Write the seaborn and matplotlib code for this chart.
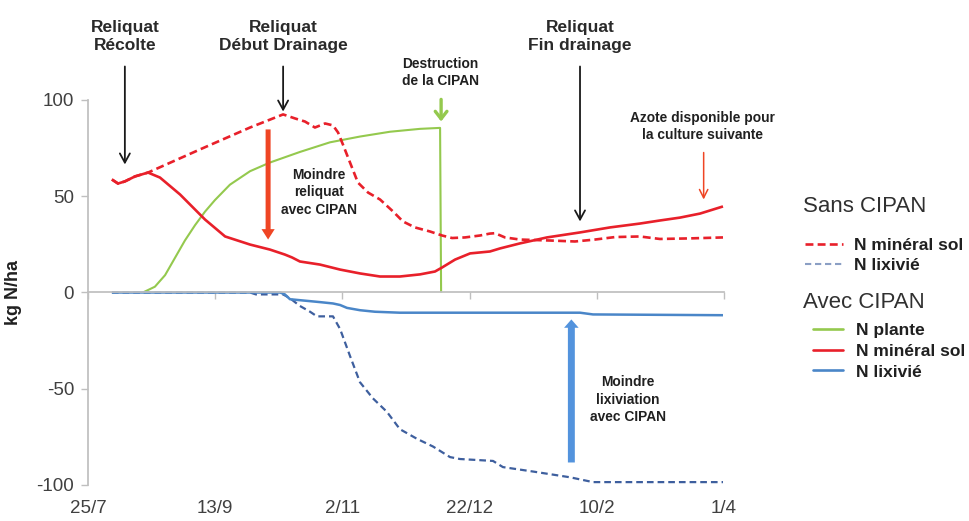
import matplotlib
matplotlib.use("Agg")
import matplotlib.pyplot as plt
from matplotlib import font_manager
from matplotlib.lines import Line2D
import pandas as pd
import seaborn as sns

# ---- data (x = days since 25 July, y = kg N/ha) ----
tick_days = [0, 50, 100, 150, 200, 250]
tick_labels = ["25/7", "13/9", "2/11", "22/12", "10/2", "1/4"]

# Sans CIPAN : azote minéral du sol
sans_min_jour = [9.4, 11.8, 14.5, 18.5, 23.6, 44.0, 63.7, 76.7, 81.4, 85.3, 89.2, 93.2,
                 96.3, 98.3, 100.2, 103.0, 106.1, 110.1, 114.8, 119.9, 123.8, 128.5,
                 134.4, 139.2, 143.1, 148.2, 154.1, 158.0, 160.0, 163.9, 169.8, 181.6,
                 191.4, 199.3, 207.2, 216.9, 224.8, 236.6, 249.6]
sans_min_kg = [58.7, 56.6, 57.7, 60.3, 62.3, 74.3, 85.7, 92.5, 90.4, 88.8, 85.7, 87.8,
               86.8, 83.1, 76.9, 67.5, 57.1, 51.9, 48.3, 42.1, 36.9, 33.8,
               31.7, 29.6, 28.3, 28.6, 29.6, 30.6, 30.8, 28.6, 27.5, 27.0,
               26.5, 27.5, 28.8, 29.1, 27.8, 28.1, 28.6]

# Sans CIPAN : azote lixivié
sans_lix_jour = [9.4, 63.7, 66.0, 71.5, 76.7, 79.4, 83.3, 87.3, 90.0, 96.3, 99.1, 103.0,
                 106.9, 112.0, 117.5, 122.6, 129.3, 135.6, 142.3, 146.2, 159.2, 163.1,
                 174.9, 189.5, 198.5, 249.6]
sans_lix_kg = [0.0, 0.0, -1.0, -1.0, -1.0, -3.0, -7.0, -10.0, -12.4, -12.4, -19.0, -33.0,
               -46.6, -55.0, -62.0, -71.0, -76.0, -80.0, -85.5, -86.5, -87.5, -90.7,
               -93.0, -96.0, -98.5, -98.5]

# Avec CIPAN : azote dans la plante
avec_plante_jour = [21.6, 26.3, 30.3, 34.2, 38.1, 42.1, 46.0, 49.9, 55.8, 63.7, 71.5,
                    83.3, 95.1, 106.9, 118.7, 130.5, 138.4, 138.8]
avec_plante_kg = [0.0, 3.0, 9.0, 18.0, 27.0, 35.0, 42.0, 48.0, 56.0, 63.0, 67.5,
                  73.0, 78.0, 81.0, 83.5, 85.0, 85.5, 0.0]

# Avec CIPAN : azote minéral du sol
avec_min_jour = [9.4, 11.8, 14.5, 18.5, 23.6, 28.3, 36.2, 46.0, 53.9, 63.7, 71.5, 77.4,
                 80.2, 83.3, 91.2, 99.1, 106.9, 114.8, 122.6, 130.5, 136.4, 139.2,
                 144.3, 150.2, 158.0, 162.0, 169.8, 180.4, 193.4, 205.2, 216.9, 224.8,
                 232.7, 240.6, 249.6]
avec_min_kg = [58.7, 56.6, 57.7, 60.3, 62.3, 59.7, 50.9, 37.9, 29.1, 24.9, 22.3, 19.7,
               18.2, 16.1, 14.5, 11.9, 9.9, 8.3, 8.3, 9.4, 10.9, 13.0,
               17.1, 20.3, 21.3, 22.9, 25.5, 28.6, 31.2, 33.8, 35.8, 37.4,
               38.9, 41.0, 44.7]

# Avec CIPAN : azote lixivié
avec_lix_jour = [9.4, 75.5, 77.4, 79.4, 83.3, 87.3, 91.2, 96.3, 99.1, 101.8, 106.9,
                 112.8, 122.6, 162.0, 193.4, 198.5, 249.6]
avec_lix_kg = [0.0, 0.0, -1.0, -3.5, -4.0, -4.5, -5.0, -5.7, -6.5, -8.0, -9.2,
               -10.0, -10.5, -10.5, -10.5, -11.4, -11.8]

# ---- styling ----
RED = "#E8202A"
GREEN = "#94C94E"
BLUE = "#4A86C8"
NAVY = "#3E5F9E"
ORANGE = "#EF4524"
ARROW_BLUE = "#5393DD"
TXT = "#202020"
AXIS_GREY = "#BFBFBF"

sns.set_theme(style="white")
plt.rcParams["font.family"] = ["Liberation Sans", "DejaVu Sans"]


def pick_family(*names):
    for n in names:
        try:
            font_manager.findfont(font_manager.FontProperties(family=n),
                                  fallback_to_default=False)
            return n
        except Exception:
            continue
    return "DejaVu Sans"


NARROW = pick_family("Liberation Sans Narrow", "Liberation Sans")
narrow_scale = 1.0 if NARROW == "Liberation Sans Narrow" else 0.9

fig = plt.figure(figsize=(9.70, 5.21), dpi=100)
ax = fig.add_axes([0.0907, 0.0691, 0.6557, 0.739])


def draw(jours, vals, color, lw, dashes=None):
    df = pd.DataFrame({"jour": jours, "kg": vals})
    sns.lineplot(data=df, x="jour", y="kg", ax=ax, color=color, linewidth=lw,
                 estimator=None, sort=False, legend=False)
    line = ax.lines[-1]
    if dashes is not None:
        line.set_dashes(dashes)
    line.set_solid_capstyle("butt")
    return line


draw(avec_plante_jour, avec_plante_kg, GREEN, 1.5)
draw(sans_lix_jour, sans_lix_kg, NAVY, 1.6, (3.0, 1.8))
draw(avec_lix_jour, avec_lix_kg, BLUE, 1.8)
draw(sans_min_jour, sans_min_kg, RED, 1.9, (3.0, 1.6))
draw(avec_min_jour, avec_min_kg, RED, 1.9)

# ---- axes ----
ax.set_xlim(0, 250)
ax.set_ylim(-100, 100)
ax.set_xlabel("")
ax.set_yticks([-100, -50, 0, 50, 100])
ax.set_yticklabels(["-100", "-50", "0", "50", "100"])
ax.tick_params(axis="y", left=True, length=5, width=1, color=AXIS_GREY,
               labelsize=13.5, labelcolor="#404040", pad=5)
for s in ("top", "right"):
    ax.spines[s].set_visible(False)
ax.spines["left"].set_color(AXIS_GREY)
ax.spines["bottom"].set_color(AXIS_GREY)
ax.spines["bottom"].set_position(("data", 0))
ax.set_xticks(tick_days)
ax.tick_params(axis="x", bottom=True, length=5, width=1, color=AXIS_GREY,
               labelbottom=False)

sec = ax.secondary_xaxis("bottom")
sec.set_xticks(tick_days)
sec.set_xticklabels(tick_labels)
sec.spines["bottom"].set_visible(False)
sec.tick_params(axis="x", length=0, pad=11, labelsize=13.5, labelcolor="#404040")

ax.set_ylabel("kg N/ha", fontsize=13, fontweight="bold", color=TXT)
ax.yaxis.set_label_coords(-0.104, 0.50)

# ---- annotations ----
def label(x, y, text, size, weight="normal", family=None, ls=1.15, color=TXT):
    ax.text(x, y, text, ha="center", va="center", fontsize=size, color=color,
            fontweight=weight, linespacing=ls, clip_on=False,
            family=family if family else ["Liberation Sans", "DejaVu Sans"])


def arrow(x0, y0, x1, y1, **props):
    ax.annotate("", xy=(x1, y1), xytext=(x0, y0), annotation_clip=False,
                arrowprops=dict(shrinkA=0, shrinkB=0, **props))


label(14.5, 133, "Reliquat\nRécolte", 12.5, "bold", ls=1.2, color="#2a2a2a")
label(76.7, 133, "Reliquat\nDébut Drainage", 12.5, "bold", ls=1.2, color="#2a2a2a")
label(193.4, 133, "Reliquat\nFin drainage", 12.5, "bold", ls=1.2, color="#2a2a2a")
label(138.4, 114.3, "Destruction\nde la CIPAN", 11 * narrow_scale, "bold", NARROW, 1.3)
label(241.7, 86.2, "Azote disponible pour\nla culture suivante", 11 * narrow_scale,
      "bold", NARROW, 1.3)
label(90.8, 52, "Moindre\nreliquat\navec CIPAN", 11 * narrow_scale, "bold", NARROW, 1.35)
label(212.3, -55.6, "Moindre\nlixiviation\navec CIPAN", 11 * narrow_scale, "bold",
      NARROW, 1.35)

black = dict(arrowstyle="->,head_length=0.55,head_width=0.3", color="#1a1a1a", lw=1.3)
arrow(14.5, 117.4, 14.5, 66.5, **black)
arrow(76.7, 117.4, 76.7, 94.0, **black)
arrow(193.4, 117.4, 193.4, 36.9, **black)
arrow(138.8, 100.3, 138.8, 88.8,
      arrowstyle="->,head_length=0.45,head_width=0.35", color=GREEN, lw=2.4)
arrow(242.0, 72.7, 242.0, 48.3,
      arrowstyle="->,head_length=0.5,head_width=0.25", color=ORANGE, lw=1.1)
arrow(70.8, 84.7, 70.8, 27.5,
      arrowstyle="simple,head_length=0.75,head_width=0.95,tail_width=0.36",
      mutation_scale=10, fc=ORANGE, ec="none")
arrow(190.0, -88.3, 190.0, -14.0,
      arrowstyle="simple,head_length=0.6,head_width=1.05,tail_width=0.5",
      mutation_scale=10, fc=ARROW_BLUE, ec="none")

# ---- legend ----
fig.text(803 / 970, 1 - 207 / 521, "Sans CIPAN", fontsize=16, color="#303030",
         ha="left", va="center")
fig.text(803 / 970, 1 - 302 / 521, "Avec CIPAN", fontsize=16, color="#303030",
         ha="left", va="center")

entry_font = {"family": ["Liberation Sans", "DejaVu Sans"], "weight": "bold", "size": 12.5}
h_sans = [Line2D([], [], color=RED, lw=1.9, dashes=(3.0, 1.6)),
          Line2D([], [], color=NAVY, lw=1.5, dashes=(3.0, 1.8), alpha=0.6)]
h_avec = [Line2D([], [], color=GREEN, lw=1.9),
          Line2D([], [], color=RED, lw=1.9),
          Line2D([], [], color=BLUE, lw=1.9)]

leg1 = fig.legend(h_sans, ["N minéral sol", "N lixivié"], loc="upper left",
                  bbox_to_anchor=(805 / 970, 1 - 238 / 521), frameon=False,
                  borderpad=0, borderaxespad=0, handlelength=2.2,
                  handletextpad=0.6, labelspacing=0.28, prop=entry_font)
leg2 = fig.legend(h_avec, ["N plante", "N minéral sol", "N lixivié"], loc="upper left",
                  bbox_to_anchor=(813 / 970, 1 - 323 / 521), frameon=False,
                  borderpad=0, borderaxespad=0, handlelength=1.75,
                  handletextpad=0.7, labelspacing=0.32, prop=entry_font)
for lg in (leg1, leg2):
    for t in lg.get_texts():
        t.set_color(TXT)

fig.savefig("out.png", dpi=100, facecolor="white")
